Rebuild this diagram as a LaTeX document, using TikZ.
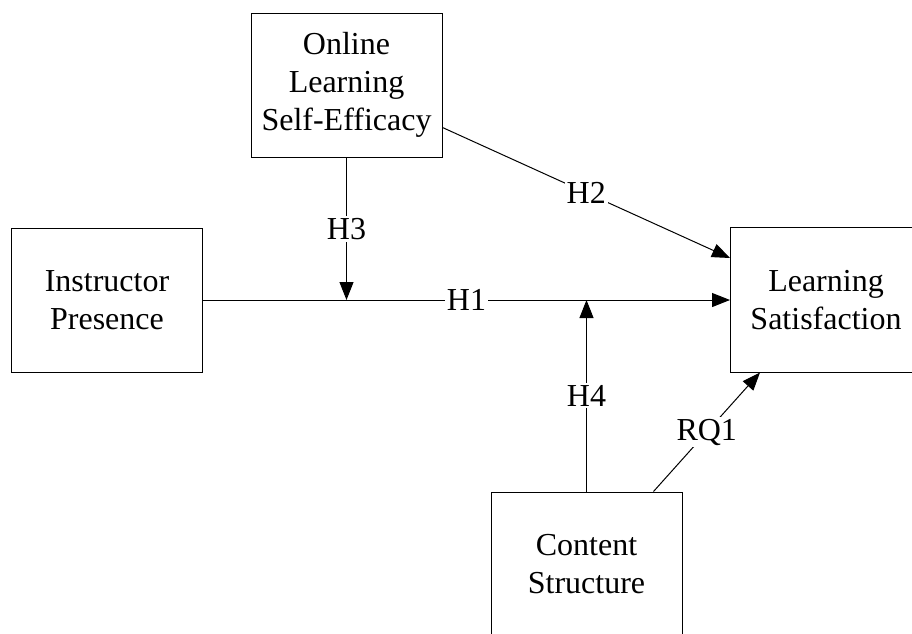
\documentclass[tikz,border=0pt]{standalone}
\usepackage{fontspec}
\setmainfont{Liberation Serif}
\usetikzlibrary{arrows.meta}
\begin{document}
\begin{tikzpicture}[x=1pt,y=-1pt,
  box/.style={draw, line width=1pt, minimum width=191pt, minimum height=144pt, align=center, inner sep=0pt,
    font=\fontsize{32}{38}\selectfont},
  arr/.style={line width=1pt, -{Triangle[length=18pt,width=14pt]}},
  lab/.style={fill=white, inner sep=2pt, font=\fontsize{32}{38}\selectfont}]
\useasboundingbox (0,0) rectangle (912,633);
\node[box] (olse) at (346.5,85) {Online\\Learning\\Self-Efficacy};
\node[box] (ip) at (107,300) {Instructor\\Presence};
\node[box, draw=none] (ls) at (826,300) {Learning\\Satisfaction};
\draw[line width=1pt] ([xshift=40pt]ls.north east) -- (ls.north west) -- (ls.south west) -- ([xshift=40pt]ls.south east);
\node[box] (cs) at (586.5,564) {Content\\Structure};
\coordinate (h3end) at (olse.south |- ip.east);
\coordinate (h4end) at (cs.north |- ip.east);
\draw[arr] (ip.east) -- node[lab] {H1} (ls.west);
\draw[arr] ([yshift=30pt]olse.south east) -- node[lab] {H2} ([yshift=42pt]ls.west);
\draw[arr] (olse.south) -- node[lab] {H3} (h3end);
\draw[arr] (cs.north) -- node[lab] {H4} (h4end);
\draw[arr] ([xshift=-29pt]cs.north east) -- node[lab] {RQ1} ([xshift=30pt]ls.south west);
\end{tikzpicture}
\end{document}
